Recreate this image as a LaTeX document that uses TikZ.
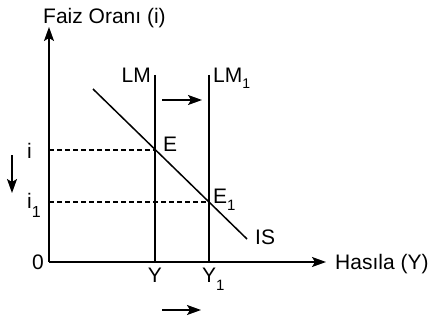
\documentclass[tikz,border=0pt]{standalone}
\usepackage{fontspec}
\setmainfont{Liberation Sans}
\usetikzlibrary{positioning}
\usetikzlibrary{arrows.meta}

% lowered index "1": #1 = drop, #2 = size
\newcommand{\lowone}[2]{\raisebox{-#1pt}{\fontsize{#2}{#2}\selectfont 1}}

\tikzset{
  lbl/.style={inner sep=0pt, font=\fontsize{21}{24}\selectfont},
  curve/.style={line width=1.5pt},
  guide/.style={line width=1.2pt, dash pattern=on 5pt off 3pt},
  arr/.style={line width=1.5pt, -{Stealth[length=14pt, width=10pt, inset=3pt]}},
}

\begin{document}
\begin{tikzpicture}[x=1pt, y=-1pt]

\useasboundingbox (0,0) rectangle (434,321);

% Axes
\coordinate (O) at (49,262);
\coordinate (ytop) at (49,27);
\coordinate (xend) at (326,262);
\draw[arr] (O) -- (ytop);
\draw[arr] (O) -- (xend);

\node[lbl, anchor=base west] (ylab) at (43,24) {Faiz Oranı (i)};
\node[lbl, anchor=base west] (xlab) at (335,269) {Hasıla (Y)};
\node[lbl, anchor=base east] (zero) at (44,269) {0};

% LM curves
\coordinate (LMtop) at (155,75);
\coordinate (LMbot) at (155,262);
\coordinate (LMonetop) at (209,75);
\coordinate (LMonebot) at (209,262);
\draw[curve] (LMtop) -- (LMbot);
\draw[curve] (LMonetop) -- (LMonebot);

\node[lbl, anchor=base east] (lm) at (151,82) {LM};
\node[lbl, anchor=base west] (lmone) at (213,82) {LM\lowone{6}{14}};

% IS curve
\coordinate (IStop) at (93,89);
\coordinate (ISbot) at (247,239);
\draw[curve] (IStop) -- (ISbot);
\node[lbl, anchor=base west] (is) at (255,244) {IS};

% Equilibria
\coordinate (E) at (155,150);
\coordinate (Eone) at (209,202);
\coordinate (i) at (49,150);
\coordinate (ione) at (49,202);
\draw[guide] (i) -- (E);
\draw[guide] (ione) -- (Eone);

\node[lbl, anchor=base west] (elbl) at (163,151) {E};
\node[lbl, anchor=base west] (eonelbl) at (213,203) {E\lowone{7}{15}};
\node[lbl, anchor=base west] (ilbl) at (27,158) {i};
\node[lbl, anchor=base west] (ionelbl) at (27,208) {i\lowone{9}{16}};
\node[lbl, anchor=base] (ylbl) at (155,282) {Y};
\node[lbl, anchor=base west] (yonelbl) at (202,282) {Y\lowone{8}{15}};

% Shift arrows
\coordinate (lmfrom) at (162,100);
\coordinate (lmto) at (202,100);
\draw[arr] (lmfrom) -- (lmto);
\coordinate (ifrom) at (12,155);
\coordinate (ito) at (12,193);
\draw[arr] (ifrom) -- (ito);
\coordinate (yfrom) at (162,310);
\coordinate (yto) at (201,310);
\draw[arr] (yfrom) -- (yto);

\end{tikzpicture}
\end{document}
